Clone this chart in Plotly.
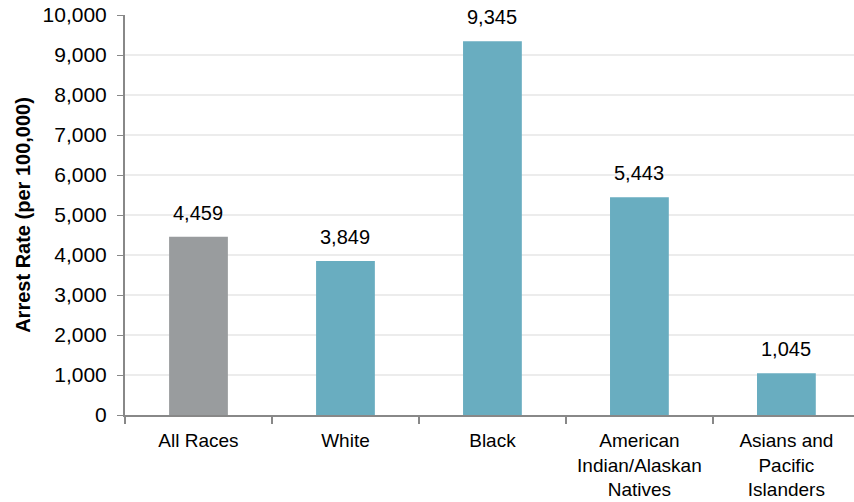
import plotly.graph_objects as go

categories = ["All Races", "White", "Black", "American<br>Indian/Alaskan<br>Natives", "Asians and<br>Pacific<br>Islanders"]
rates = [4459, 3849, 9345, 5443, 1045]
bar_colors = ["#999c9e", "#69adc0", "#69adc0", "#69adc0", "#69adc0"]
y_ticks = list(range(0, 10001, 1000))

FONT = "Liberation Sans, Arial"

fig = go.Figure(go.Bar(
    x=categories, y=rates,
    marker=dict(color=bar_colors, line=dict(width=0)),
    width=0.4, hoverinfo="x+y",
))

for c, v in zip(categories, rates):
    fig.add_annotation(x=c, y=v, text=f"{v:,}", showarrow=False, yanchor="bottom",
                       yshift=11, font=dict(family=FONT, size=20, color="#000"))

fig.update_layout(
    width=854, height=502,
    margin=dict(l=125, r=0, t=15, b=87),
    plot_bgcolor="white", paper_bgcolor="white",
    font=dict(family=FONT, size=20, color="#000"),
    showlegend=False,
    xaxis=dict(
        range=[-0.5, 4.46],
        showline=True, linecolor="#888", linewidth=2,
        ticks="outside", tickson="boundaries", ticklen=7, tickcolor="#888", tickwidth=2,
        tickfont=dict(size=19), showgrid=False, automargin=False, ticklabelstandoff=7,
    ),
    yaxis=dict(
        range=[0, 10000], tickvals=y_ticks, tickformat=",",
        showline=True, linecolor="#888", linewidth=2,
        ticks="outside", ticklen=6, tickcolor="#888", tickwidth=1,
        showgrid=True, gridcolor="#ececec", gridwidth=1.5,
        tickfont=dict(size=21), automargin=False, ticklabelstandoff=6,
        title=dict(text="<b>Arrest Rate (per 100,000)</b>", font=dict(size=20), standoff=7),
        zeroline=False,
    ),
)

fig.write_html("out.html", config={"displayModeBar": False},
               post_script="document.body.style.margin='0';")
